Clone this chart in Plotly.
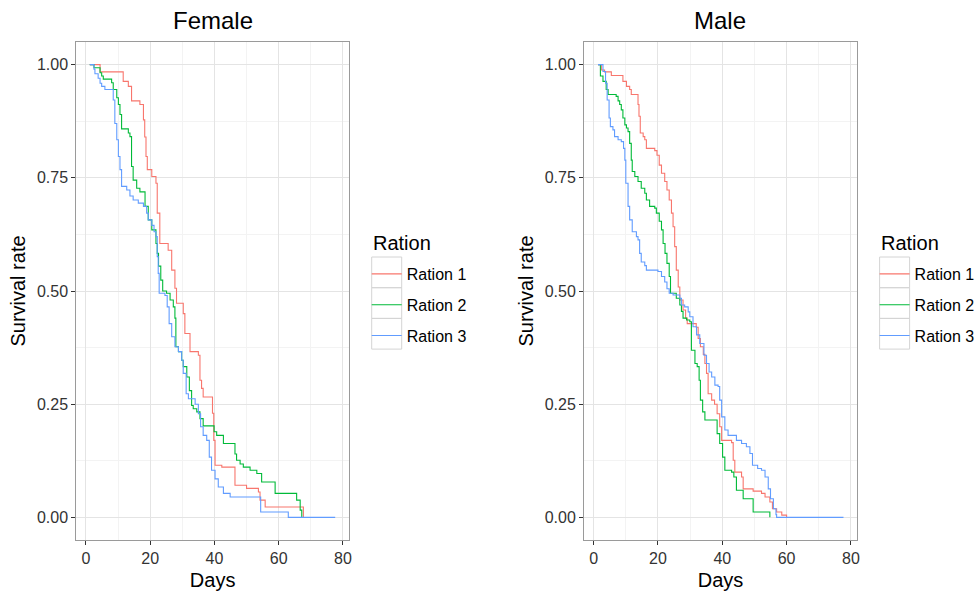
import plotly.graph_objects as go

# ---------------- data ----------------
panels = ["Female", "Male"]
rations = ["Ration 1", "Ration 2", "Ration 3"]
colors = ["#F8766D", "#00BA38", "#619CFF"]
x_ticks = [0, 20, 40, 60, 80]
y_ticks = [0.0, 0.25, 0.50, 0.75, 1.00]
y_tick_labels = ["0.00", "0.25", "0.50", "0.75", "1.00"]

f1_days = [1.2, 4.4, 11.6, 13.2, 14.2, 16.8, 17.9, 18.3, 18.7, 19.1, 20.5, 21.8, 22.2, 23.0, 25.6, 26.7, 27.7,
           28.2, 30.3, 30.8, 32.4, 35.0, 35.5, 36.0, 36.5, 39.4, 39.8, 40.2, 42.3, 46.4, 50.0, 53.7, 54.2, 55.8, 67.7]
f1_surv = [1.0, 0.984, 0.963, 0.952, 0.92, 0.912, 0.878, 0.84, 0.797, 0.768, 0.753, 0.738, 0.672, 0.605, 0.59, 0.546, 0.506,
           0.473, 0.45, 0.406, 0.366, 0.358, 0.303, 0.285, 0.266, 0.23, 0.17, 0.115, 0.111, 0.071, 0.064, 0.056, 0.038, 0.023, 0.0]

f2_days = [1.2, 2.5, 4.4, 4.9, 5.4, 8.0, 8.5, 9.6, 10.1, 10.6, 11.1, 13.2, 13.7, 14.2, 14.7, 15.8, 16.8, 18.4, 19.4, 20.5,
           21.8, 22.2, 22.6, 23.3, 23.9, 25.1, 26.2, 27.2, 27.7, 28.0, 28.8, 29.8, 30.3, 31.4, 32.2, 32.9, 33.4, 34.5,
           35.5, 36.5, 39.9, 40.7, 42.8, 46.4, 46.9, 48.0, 49.0, 51.1, 53.2, 54.7, 58.9, 65.6, 66.7, 67.2]
f2_surv = [1.0, 0.993, 0.982, 0.975, 0.968, 0.96, 0.945, 0.927, 0.912, 0.89, 0.858, 0.849, 0.841, 0.775, 0.745, 0.727, 0.719,
           0.687, 0.657, 0.635, 0.605, 0.583, 0.555, 0.524, 0.5, 0.495, 0.48, 0.465, 0.44, 0.377, 0.366, 0.347, 0.333, 0.31,
           0.28, 0.247, 0.24, 0.233, 0.218, 0.202, 0.189, 0.181, 0.163, 0.14, 0.126, 0.118, 0.111, 0.104, 0.097, 0.078,
           0.053, 0.038, 0.016, 0.0]

f3_days = [1.2, 2.5, 2.8, 3.8, 4.4, 4.9, 5.9, 8.5, 9.0, 9.6, 10.1, 10.6, 11.1, 12.7, 13.7, 14.7, 16.3, 17.9, 18.9, 19.4,
           20.5, 21.2, 21.8, 22.2, 22.5, 22.8, 24.6, 25.3, 25.9, 26.7, 27.7, 28.8, 29.8, 30.3, 31.2, 31.9, 34.0, 35.0,
           35.7, 36.5, 37.6, 38.4, 39.1, 40.2, 41.2, 42.8, 44.9, 54.4, 63.0, 77.6]
f3_surv = [1.0, 0.99, 0.98, 0.97, 0.959, 0.952, 0.945, 0.922, 0.87, 0.834, 0.797, 0.768, 0.731, 0.723, 0.71, 0.701, 0.694,
           0.687, 0.672, 0.657, 0.645, 0.631, 0.62, 0.576, 0.539, 0.495, 0.49, 0.465, 0.428, 0.399, 0.377, 0.366, 0.347,
           0.318, 0.273, 0.262, 0.25, 0.229, 0.2, 0.181, 0.17, 0.133, 0.104, 0.085, 0.067, 0.053, 0.045, 0.012, 0.0, 0.0]

m1_days = [1.35, 2.4, 3.4, 5.5, 9.1, 10.2, 11.2, 11.7, 13.8, 14.1, 14.5, 15.4, 15.9, 16.4, 19.0, 19.7, 20.4, 21.1, 22.1,
           22.8, 23.5, 24.2, 24.7, 25.2, 25.7, 26.3, 26.8, 27.8, 28.6, 29.1, 31.9, 32.5, 33.2, 34.1, 34.6, 35.1, 35.6,
           36.7, 37.6, 38.4, 39.2, 39.8, 42.9, 43.4, 43.9, 46.0, 46.5, 49.6, 52.2, 53.3, 54.8, 55.6, 56.9, 58.5, 60.0]
m1_surv = [1.0, 0.988, 0.984, 0.976, 0.963, 0.952, 0.945, 0.934, 0.912, 0.886, 0.849, 0.841, 0.834, 0.815, 0.81, 0.8,
           0.778, 0.76, 0.742, 0.723, 0.701, 0.672, 0.642, 0.598, 0.546, 0.509, 0.48, 0.458, 0.44, 0.428, 0.42, 0.395,
           0.377, 0.36, 0.34, 0.318, 0.273, 0.259, 0.25, 0.229, 0.2, 0.17, 0.165, 0.126, 0.1, 0.089, 0.063, 0.058, 0.053,
           0.045, 0.034, 0.019, 0.012, 0.005, 0.0]

m2_days = [1.35, 2.1, 2.9, 3.9, 4.5, 7.0, 7.6, 8.1, 8.6, 9.1, 9.7, 10.2, 10.7, 11.2, 11.7, 12.0, 12.8, 13.8, 14.8, 15.9,
           16.4, 17.4, 19.0, 19.5, 20.4, 21.1, 21.6, 22.2, 22.8, 23.5, 23.9, 25.7, 26.8, 27.3, 27.8, 28.9, 29.9, 30.4,
           31.5, 32.2, 32.8, 33.2, 33.9, 34.6, 38.4, 39.2, 40.1, 40.8, 42.9, 43.6, 44.4, 46.5, 49.6, 54.8]
m2_surv = [1.0, 0.975, 0.963, 0.945, 0.934, 0.93, 0.92, 0.912, 0.9, 0.882, 0.867, 0.86, 0.852, 0.826, 0.789, 0.764, 0.753,
           0.742, 0.727, 0.716, 0.701, 0.687, 0.683, 0.672, 0.654, 0.635, 0.605, 0.583, 0.561, 0.532, 0.495, 0.484, 0.469,
           0.455, 0.44, 0.436, 0.432, 0.369, 0.34, 0.333, 0.303, 0.259, 0.233, 0.215, 0.185, 0.163, 0.133, 0.104, 0.1,
           0.089, 0.06, 0.041, 0.012, 0.0]

m3_days = [1.35, 2.9, 3.7, 4.2, 4.8, 5.2, 6.0, 6.5, 7.6, 8.6, 9.3, 9.7, 10.0, 10.7, 11.2, 12.0, 13.3, 13.8, 14.3, 14.8,
           15.9, 16.4, 20.0, 21.1, 22.1, 22.8, 23.5, 24.7, 26.8, 27.3, 28.3, 29.4, 29.9, 30.9, 32.0, 33.0, 34.3, 35.1,
           35.9, 36.7, 37.7, 38.7, 39.2, 39.8, 40.8, 41.8, 44.4, 46.0, 47.5, 48.6, 49.4, 51.0, 52.2, 53.3, 54.3, 55.0,
           55.9, 56.7, 56.9, 77.7]
m3_surv = [1.0, 0.985, 0.959, 0.922, 0.882, 0.863, 0.856, 0.841, 0.834, 0.83, 0.815, 0.789, 0.738, 0.687, 0.657, 0.631,
           0.62, 0.613, 0.583, 0.564, 0.556, 0.546, 0.543, 0.532, 0.52, 0.505, 0.495, 0.491, 0.484, 0.469, 0.465, 0.454,
           0.443, 0.421, 0.403, 0.384, 0.358, 0.34, 0.321, 0.31, 0.292, 0.289, 0.259, 0.222, 0.193, 0.181, 0.17, 0.163,
           0.156, 0.141, 0.115, 0.108, 0.104, 0.089, 0.063, 0.041, 0.019, 0.006, 0.0, 0.0]

series = {
    "Female": [(f1_days, f1_surv), (f2_days, f2_surv), (f3_days, f3_surv)],
    "Male": [(m1_days, m1_surv), (m2_days, m2_surv), (m3_days, m3_surv)],
}

# ---------------- layout geometry (pixel positions) ----------------
W, H = 978, 597
FONT = "Liberation Sans, Arial, sans-serif"


def px(xw):
    return xw / W


def py(yw):
    return 1 - yw / H


x_domains = [[px(76.3), px(349)], [px(584), px(857)]]
y_domain = [py(540), py(42)]
legend_left_px = [371.7, 879.6]

fig = go.Figure()

for p, panel in enumerate(panels):
    for r, (days, surv) in enumerate(series[panel]):
        fig.add_trace(go.Scatter(
            x=days, y=surv, mode="lines", line_shape="hv",
            line=dict(color=colors[r], width=1.1),
            name=rations[r],
            legend="legend" if p == 0 else "legend2",
            legendgroup=f"{panel}-{r}",
            xaxis="x" if p == 0 else "x2",
            yaxis="y" if p == 0 else "y2",
            hoverinfo="skip",
        ))

axis_common = dict(
    showline=True, mirror=True, linecolor="#9a9a9a", linewidth=1,
    ticks="outside", ticklen=4, tickcolor="#333333", tickwidth=1,
    showgrid=True, gridcolor="#E4E4E4", gridwidth=1.2, zeroline=False,
    showspikes=False,
    tickfont=dict(family=FONT, size=16, color="#333333"),
)

layout = dict(
    width=W, height=H, margin=dict(l=0, r=0, t=0, b=0, autoexpand=False),
    paper_bgcolor="white", plot_bgcolor="white",
    font=dict(family=FONT, color="black"),
    showlegend=True, hovermode=False, dragmode=False,
)

for p in range(2):
    xs = "xaxis" if p == 0 else "xaxis2"
    ys = "yaxis" if p == 0 else "yaxis2"
    layout[xs] = dict(
        axis_common, domain=x_domains[p], range=[-3.0, 81.9],
        tickvals=x_ticks, ticktext=[str(v) for v in x_ticks],
        minor=dict(tickvals=[10, 30, 50, 70], showgrid=True, gridcolor="#F3F3F3", gridwidth=1, ticks=""),
        title=dict(text="Days", font=dict(family=FONT, size=20, color="black"), standoff=6),
        anchor="y" if p == 0 else "y2",
    )
    layout[ys] = dict(
        axis_common, domain=y_domain, range=[-0.05, 1.05],
        tickvals=y_ticks, ticktext=y_tick_labels,
        minor=dict(tickvals=[0.125, 0.375, 0.625, 0.875], showgrid=True, gridcolor="#F3F3F3", gridwidth=1, ticks=""),
        title=dict(text="Survival rate", font=dict(family=FONT, size=20, color="black"), standoff=5),
        anchor="x" if p == 0 else "x2",
    )
    lg = "legend" if p == 0 else "legend2"
    layout[lg] = dict(
        x=px(legend_left_px[p] - 5), y=py(257), xanchor="left", yanchor="top",
        font=dict(family=FONT, size=16, color="black"),
        tracegroupgap=7, bgcolor="rgba(0,0,0,0)", itemwidth=30,
    )

fig.update_layout(**layout)

# panel titles and legend titles
for p, panel in enumerate(panels):
    fig.add_annotation(
        text=panel, xref="paper", yref="paper",
        x=sum(x_domains[p]) / 2, y=py(20), xanchor="center", yanchor="middle",
        showarrow=False, font=dict(family=FONT, size=24, color="black"),
    )
    fig.add_annotation(
        text="Ration", xref="paper", yref="paper",
        x=px(legend_left_px[p] - 1), y=py(243), xanchor="left", yanchor="middle",
        showarrow=False, font=dict(family=FONT, size=20, color="black"),
    )

# legend key boxes
for p in range(2):
    for i in range(3):
        top = 257 + 30.7 * i
        fig.add_shape(
            type="rect", xref="paper", yref="paper",
            x0=px(legend_left_px[p]), x1=px(legend_left_px[p] + 30),
            y0=py(top), y1=py(top + 30.7),
            line=dict(color="#D4D4D4", width=1), fillcolor="rgba(0,0,0,0)", layer="below",
        )

# remove the browser's default page margin so the 978x597 figure fills the window exactly
fig.write_html(
    "out.html",
    config={"displayModeBar": False},
    post_script="document.body.style.margin='0';document.body.style.overflow='hidden';",
)
